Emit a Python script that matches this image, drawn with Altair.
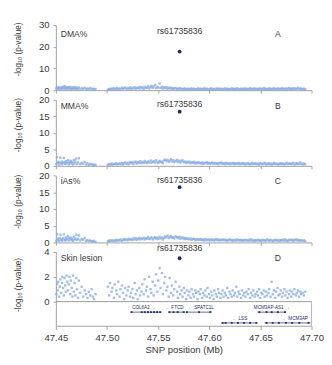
import altair as alt
import pandas as pd

# ---------------- data ----------------
pos_seg1 = [47.4505, 47.4512, 47.4518, 47.4523, 47.4531, 47.4538, 47.4544, 47.4552, 47.4559, 47.4563,
            47.4571, 47.4578, 47.4585, 47.4591, 47.4597, 47.4604, 47.4612, 47.4619, 47.4626, 47.4633,
            47.4641, 47.4647, 47.4655, 47.4662, 47.4668, 47.4676, 47.4684, 47.4691, 47.4699, 47.4707,
            47.4716, 47.4725, 47.4738, 47.4752, 47.4767, 47.4781, 47.4795, 47.4808, 47.4822, 47.4836,
            47.4849, 47.4861, 47.4874, 47.4888]
pos_seg2 = [47.5008, 47.5021, 47.5030, 47.5044, 47.5052, 47.5067, 47.5075, 47.5089, 47.5098, 47.5110,
            47.5123, 47.5131, 47.5146, 47.5155, 47.5168, 47.5177, 47.5190, 47.5202, 47.5211, 47.5225,
            47.5234, 47.5248, 47.5256, 47.5270, 47.5279, 47.5292, 47.5301, 47.5315, 47.5323, 47.5337,
            47.5345, 47.5359, 47.5368, 47.5381, 47.5390, 47.5403, 47.5412, 47.5426, 47.5434, 47.5447,
            47.5456, 47.5470, 47.5479, 47.5492, 47.5501, 47.5514, 47.5523, 47.5537, 47.5545, 47.5559,
            47.5568, 47.5581, 47.5590, 47.5604, 47.5612, 47.5626, 47.5635, 47.5648, 47.5657, 47.5671,
            47.5684, 47.5693, 47.5707, 47.5715, 47.5729, 47.5738, 47.5751, 47.5760, 47.5774, 47.5782,
            47.5796, 47.5805, 47.5818, 47.5827, 47.5841, 47.5849, 47.5863, 47.5872, 47.5885, 47.5894,
            47.5908, 47.5916, 47.5930, 47.5939, 47.5952, 47.5961, 47.5975, 47.5983, 47.5997, 47.6006,
            47.6019, 47.6028, 47.6042, 47.6050, 47.6064, 47.6073, 47.6086, 47.6095, 47.6109, 47.6117,
            47.6131, 47.6140, 47.6153, 47.6162, 47.6176, 47.6184, 47.6198, 47.6207, 47.6220, 47.6229,
            47.6243, 47.6251, 47.6265, 47.6274, 47.6287, 47.6296, 47.6310, 47.6318, 47.6332, 47.6341,
            47.6354, 47.6363, 47.6377, 47.6385, 47.6399, 47.6408, 47.6421, 47.6430, 47.6444, 47.6452,
            47.6466, 47.6475, 47.6488, 47.6497, 47.6511, 47.6519, 47.6533, 47.6542, 47.6555, 47.6564,
            47.6578, 47.6586, 47.6600, 47.6609, 47.6622, 47.6631, 47.6645, 47.6653, 47.6667, 47.6676,
            47.6689, 47.6698, 47.6712, 47.6720, 47.6734, 47.6743, 47.6756, 47.6765, 47.6779, 47.6787,
            47.6801, 47.6810, 47.6823, 47.6832, 47.6846, 47.6854, 47.6868, 47.6877, 47.6890, 47.6899,
            47.6912, 47.6925, 47.6938]
positions = pos_seg1 + pos_seg2

dma = [0.8, 1.2, 0.5, 1.0, 1.5, 0.7, 1.1, 0.4, 1.3, 0.9, 1.6, 0.6, 1.2, 1.8, 0.9, 0.5, 1.4, 1.0, 0.7, 1.5,
       1.2, 0.4, 0.9, 1.3, 0.6, 1.1, 0.8, 1.4, 0.5, 1.0, 0.7, 1.2, 0.3, 0.9, 0.6, 1.1, 0.4, 0.8, 0.5, 1.0,
       0.3, 0.7, 0.4, 0.6,
       0.3, 0.6, 0.4, 0.8, 0.5, 0.9, 0.3, 0.7, 1.0, 0.5,
       0.8, 0.4, 1.1, 0.6, 0.9, 1.2, 0.5, 1.0, 0.7, 1.3,
       0.6, 1.1, 0.8, 1.4, 0.5, 1.0, 1.2, 0.7, 1.5, 0.9,
       1.3, 0.6, 1.6, 1.0, 1.2, 1.8, 0.8, 1.4, 2.0, 1.1,
       1.7, 2.4, 0.9, 1.5, 1.2, 3.1, 1.0, 1.6, 0.7, 1.3,
       0.9, 1.4, 0.6, 1.1, 0.8, 1.2, 0.5, 0.9, 0.7, 1.0,
       0.4, 0.8, 0.6, 0.9, 0.3, 0.7, 0.5, 0.8, 0.4, 0.6,
       0.7, 0.3, 0.6, 0.8, 0.4, 0.7, 0.5, 0.3, 0.6, 0.8,
       0.5, 0.7, 0.3, 0.6, 0.8, 0.4, 0.7, 0.5, 0.3, 0.6,
       0.8, 0.4, 0.6, 0.3, 0.7, 0.5, 0.8, 0.4, 0.6, 0.7,
       0.3, 0.6, 0.8, 0.4, 0.7, 0.5, 0.3, 0.6, 0.8, 0.5,
       0.7, 0.4, 0.6, 0.9, 0.5, 0.3, 0.7, 0.6, 0.4, 0.8,
       0.5, 0.7, 0.3, 0.6, 0.9, 0.4, 0.7, 0.5, 0.8, 0.6,
       0.4, 0.7, 0.5, 0.8, 0.3, 0.6, 0.9, 0.5, 0.7, 0.4,
       0.6, 0.8, 0.4, 0.7, 0.5, 0.9, 0.6, 0.3, 0.8, 0.5,
       0.7, 0.4, 0.9, 0.6, 0.5, 0.8, 0.3, 0.7, 1.0, 0.6,
       0.4, 0.8, 0.6, 0.9, 0.5, 0.7, 1.1, 0.4, 0.8, 0.6,
       0.5, 0.7, 0.4]

mma = [0.6, 2.6, 0.9, 1.2, 0.4, 1.0, 2.5, 0.7, 1.3, 0.5, 0.9, 2.4, 1.1, 0.6, 1.4, 0.8, 1.0, 1.7, 0.5, 1.2,
       0.9, 1.5, 0.7, 1.1, 0.4, 1.8, 0.8, 1.3, 2.2, 0.6, 1.0, 2.3, 0.5, 0.9, 0.7, 1.2, 0.4, 0.8, 0.3, 0.6,
       0.5, 0.2, 0.4, 0.3,
       0.3, 0.5, 0.4, 0.7, 0.3, 0.6, 0.5, 0.8, 0.4, 0.6,
       0.7, 0.5, 0.9, 0.4, 0.8, 1.0, 0.6, 0.9, 0.5, 1.1,
       0.8, 1.2, 0.6, 1.0, 1.3, 0.7, 1.1, 0.9, 1.4, 0.8,
       1.2, 0.9, 1.5, 1.1, 0.8, 1.3, 1.0, 1.6, 0.9, 1.2,
       1.4, 1.0, 1.7, 1.2, 0.9, 1.5, 1.1, 1.3, 0.8, 1.6,
       1.9, 1.4, 1.8, 1.2, 1.6, 2.0, 1.3, 1.7, 1.1, 1.5,
       1.8, 1.2, 1.6, 1.0, 1.4, 1.7, 1.1, 1.3, 0.9, 1.2,
       1.0, 1.3, 0.8, 1.1, 0.9, 1.2, 0.7, 1.0, 0.8, 1.1,
       0.9, 0.7, 1.0, 0.6, 0.9, 0.8, 1.1, 0.7, 0.9, 0.6,
       0.8, 1.0, 0.6, 0.9, 0.7, 0.8, 0.5, 0.9, 0.7, 1.0,
       0.6, 0.8, 0.5, 0.9, 0.7, 0.6, 0.8, 0.5, 0.7, 0.9,
       0.5, 0.8, 0.6, 0.7, 0.9, 0.5, 0.7, 0.6, 0.8, 0.5,
       0.7, 0.5, 0.8, 0.6, 0.4, 0.7, 0.9, 0.5, 0.6, 0.8,
       0.5, 0.7, 0.4, 0.8, 0.6, 0.5, 0.7, 0.9, 0.4, 0.6,
       0.8, 0.5, 0.7, 0.4, 0.6, 0.9, 0.5, 0.7, 0.6, 0.4,
       0.6, 0.8, 0.5, 0.7, 0.4, 0.6, 0.9, 0.5, 0.7, 0.6,
       0.5, 0.7, 0.9, 0.4, 0.6, 0.8, 0.5, 0.7, 1.0, 0.6,
       0.4, 0.7, 0.5]

ias = [0.5, 2.5, 0.8, 1.1, 0.4, 1.3, 2.3, 0.7, 1.0, 0.5, 1.2, 2.4, 0.9, 0.6, 1.5, 0.8, 1.1, 1.9, 0.6, 1.3,
       0.9, 1.4, 0.7, 1.0, 0.5, 1.7, 0.9, 1.2, 2.3, 0.7, 1.1, 2.1, 0.6, 1.0, 0.8, 1.3, 0.5, 0.7, 0.4, 0.6,
       0.4, 0.3, 0.5, 0.2,
       0.4, 0.6, 0.3, 0.7, 0.5, 0.6, 0.4, 0.8, 0.5, 0.7,
       0.6, 0.9, 0.5, 0.8, 1.0, 0.7, 0.9, 0.6, 1.1, 0.8,
       1.0, 0.7, 1.2, 0.9, 1.3, 0.8, 1.1, 1.4, 0.9, 1.2,
       1.0, 1.4, 0.9, 1.3, 1.1, 1.6, 1.0, 1.2, 1.5, 0.9,
       1.3, 1.6, 1.1, 1.4, 1.0, 1.7, 1.2, 1.5, 0.9, 1.3,
       1.8, 1.5, 2.0, 1.3, 1.7, 1.9, 1.4, 1.6, 1.2, 1.8,
       1.6, 1.3, 1.7, 1.1, 1.5, 1.2, 1.4, 1.0, 1.3, 1.1,
       1.1, 0.9, 1.2, 0.8, 1.0, 1.1, 0.7, 0.9, 1.0, 0.8,
       0.8, 1.0, 0.7, 0.9, 0.6, 1.0, 0.8, 0.7, 0.9, 0.6,
       0.9, 0.7, 0.8, 0.6, 1.0, 0.7, 0.9, 0.6, 0.8, 0.7,
       0.7, 0.9, 0.6, 0.8, 0.5, 0.7, 0.9, 0.6, 0.8, 0.5,
       0.6, 0.8, 0.5, 0.9, 0.7, 0.6, 0.8, 0.5, 0.7, 0.6,
       0.8, 0.6, 0.7, 0.5, 0.9, 0.6, 0.8, 0.4, 0.7, 0.5,
       0.6, 0.8, 0.5, 0.7, 0.4, 0.8, 0.6, 0.7, 0.5, 0.9,
       0.7, 0.5, 0.8, 0.6, 0.4, 0.7, 0.6, 0.8, 0.5, 0.7,
       0.5, 0.7, 0.6, 0.8, 0.5, 0.9, 0.6, 0.4, 0.7, 0.8,
       0.6, 0.8, 0.5, 0.7, 0.9, 0.6, 0.8, 0.5, 0.7, 0.6,
       0.5, 0.6, 0.4]

skin = [0.6, 1.4, 0.9, 1.6, 0.4, 1.2, 1.8, 0.7, 1.5, 2.0, 1.1, 0.5, 1.9, 1.3, 0.8, 2.1, 1.6, 0.9, 1.4, 2.0,
        0.6, 1.7, 1.1, 0.4, 2.1, 0.8, 1.5, 0.5, 1.9, 1.0, 0.3, 1.7, 0.7, 1.2, 0.4, 0.9, 0.6, 0.3, 0.8, 0.5,
        1.0, 0.4, 0.2, 0.6,
        1.2, 0.5, 1.5, 0.8, 1.1, 0.3, 1.4, 0.9, 0.6, 1.6,
        0.4, 1.0, 1.3, 0.7, 0.2, 1.1, 0.5, 0.9, 1.2, 0.4,
        0.7, 1.0, 0.3, 1.5, 0.6, 0.9, 0.2, 1.1, 0.5, 0.8,
        1.4, 0.6, 1.8, 0.9, 1.2, 0.4, 2.0, 1.0, 0.7, 1.6,
        0.5, 1.3, 2.2, 0.8, 1.7, 2.7, 1.1, 2.3, 0.6, 1.5,
        2.0, 0.9, 1.2, 0.4, 1.9, 0.7, 1.3, 0.5, 1.0, 1.6,
        0.8, 0.3, 1.2, 0.6, 0.9, 0.4, 1.1, 0.7, 0.2, 0.9,
        0.5, 0.8, 0.3, 1.0, 0.6, 0.4, 0.9, 0.7, 0.2, 0.8,
        0.6, 1.0, 0.3, 0.7, 0.5, 0.9, 0.4, 1.1, 0.6, 0.3,
        0.8, 0.5, 0.2, 0.9, 0.6, 0.4, 1.0, 0.7, 0.3, 0.6,
        0.9, 0.4, 0.7, 0.5, 1.1, 0.3, 0.8, 0.6, 0.4, 0.9,
        0.5, 0.7, 1.2, 0.4, 0.8, 0.6, 0.3, 0.9, 0.5, 0.7,
        0.4, 0.8, 0.6, 1.0, 0.3, 0.7, 0.5, 0.9, 0.4, 0.6,
        0.8, 0.5, 1.0, 0.3, 0.7, 0.6, 0.9, 0.4, 0.8, 0.5,
        0.7, 1.0, 0.4, 1.6, 0.6, 0.9, 0.3, 0.8, 1.1, 0.5,
        0.6, 0.9, 0.4, 0.7, 1.0, 0.5, 0.8, 0.3, 0.6, 0.9,
        0.4, 0.8, 0.6, 1.0, 0.5, 0.7, 0.9, 0.4, 0.8, 0.6,
        0.7, 0.5, 0.8]

lead_snp = "rs61735836"
lead_pos = 47.571
lead_dma, lead_mma, lead_ias, lead_skin = 17.8, 16.4, 16.5, 3.5

x_ticks = [47.45, 47.50, 47.55, 47.60, 47.65, 47.70]

gene_names = ["COL6A2 →", "← FTCD", "← SPATC1L", "← LSS", "MCM3AP-AS1 →", "← MCM3AP"]
gene_start = [47.523, 47.560, 47.577, 47.612, 47.647, 47.654]
gene_end = [47.553, 47.576, 47.602, 47.647, 47.675, 47.699]
gene_label_pos = [47.536, 47.566, 47.592, 47.630, 47.661, 47.684]
gene_row = [1, 1, 1, 2, 1, 2]
exon_gene_row = [1, 1, 1, 1, 1, 1, 1, 1, 1, 1, 1, 1, 1, 1, 1, 1, 1, 1, 1, 1,
                 2, 2, 2, 2, 2, 2, 2, 2, 2, 2, 2, 2, 2, 2]
exon_pos = [47.524, 47.534, 47.537, 47.540, 47.543, 47.546, 47.549, 47.552,
            47.561, 47.565, 47.569, 47.575, 47.578, 47.590, 47.601,
            47.649, 47.656, 47.661, 47.667, 47.674,
            47.613, 47.616, 47.622, 47.628, 47.634, 47.640, 47.646,
            47.656, 47.662, 47.668, 47.675, 47.681, 47.688, 47.697]

# ---------------- style ----------------
BLUE = "#8aade3"
NAVY = "#1b2a66"
AX = "#a0a0a0"
TXT = "#3a3a3a"
XDOM = [47.45, 47.70]
W = 267
ROW_LINE = {1: -0.85, 2: -1.72}
ROW_LABEL = {1: -0.5, 2: -1.38}


def panel(name, vals, letter, ymin, ymax, yticks, height, ann_y, rs_y, lead_y, bottom, title_y):
    xs = alt.Scale(domain=XDOM, nice=False, zero=False)
    ys = alt.Scale(domain=[ymin, ymax], nice=False, zero=False)
    if bottom:
        xaxis = alt.Axis(values=x_ticks, format=".2f", title="SNP position (Mb)", grid=False,
                         domainColor=AX, tickColor=AX, tickSize=4, labelFontSize=10,
                         titleFontSize=10, labelColor=TXT, titleColor=TXT,
                         titleFontWeight="normal", labelPadding=3, titlePadding=3,
                         labelFlush=False)
    else:
        xaxis = alt.Axis(values=x_ticks, labels=False, title=None, grid=False,
                         domainColor=AX, tickColor=AX, tickSize=3)
    yaxis = alt.Axis(values=yticks, title="-log₁₀ (p-value)", grid=False, domainColor=AX,
                     tickColor=AX, tickSize=3, labelPadding=4, labelFontSize=10,
                     labelColor=TXT, titleColor=TXT, titleFontSize=8.5,
                     titleFontWeight="normal", titleX=-35, titleY=title_y)

    xenc = alt.X("pos:Q", scale=xs, axis=xaxis)
    yenc = alt.Y("val:Q", scale=ys, axis=yaxis)

    df = pd.DataFrame({"pos": positions, "val": vals})
    pts = alt.Chart(df).mark_square(size=6, color=BLUE, opacity=0.8).encode(x=xenc, y=yenc)

    layers = []
    if bottom:
        zero_df = pd.DataFrame({"pos": [XDOM[0]], "pos2": [XDOM[1]], "val": [0]})
        layers.append(alt.Chart(zero_df).mark_rule(color="#8c8c8c", strokeWidth=0.9).encode(
            x=xenc, x2="pos2:Q", y=yenc))
        box_df = pd.DataFrame({"pos": [XDOM[1]], "val": [0], "val2": [ymin]})
        layers.append(alt.Chart(box_df).mark_rule(color=AX, strokeWidth=0.8).encode(
            x=xenc, y=yenc, y2="val2:Q"))
        gdf = pd.DataFrame({"pos": gene_start, "pos2": gene_end,
                            "val": [ROW_LINE[r] for r in gene_row]})
        layers.append(alt.Chart(gdf).mark_rule(color=NAVY, strokeWidth=0.7).encode(
            x=xenc, x2="pos2:Q", y=yenc))
        edf = pd.DataFrame({"pos": exon_pos, "val": [ROW_LINE[r] for r in exon_gene_row]})
        layers.append(alt.Chart(edf).mark_square(size=4, color=NAVY, opacity=0.9).encode(
            x=xenc, y=yenc))
        ldf = pd.DataFrame({"pos": gene_label_pos, "val": [ROW_LABEL[r] for r in gene_row],
                            "text": gene_names})
        layers.append(alt.Chart(ldf).mark_text(fontSize=4.8, color=NAVY, baseline="middle").encode(
            x=xenc, y=yenc, text="text:N"))

    lead_df = pd.DataFrame({"pos": [lead_pos], "val": [lead_y]})
    layers.append(alt.Chart(lead_df).mark_circle(size=16, color=NAVY, opacity=1).encode(
        x=xenc, y=yenc))

    name_df = pd.DataFrame({"pos": [47.4547], "val": [ann_y], "text": [name]})
    layers.append(alt.Chart(name_df).mark_text(align="left", baseline="middle", fontSize=9,
                                               color=TXT).encode(x=xenc, y=yenc, text="text:N"))
    rs_df = pd.DataFrame({"pos": [lead_pos], "val": [rs_y], "text": [lead_snp]})
    layers.append(alt.Chart(rs_df).mark_text(align="center", baseline="middle", fontSize=9,
                                             color=TXT).encode(x=xenc, y=yenc, text="text:N"))
    let_df = pd.DataFrame({"pos": [47.667], "val": [ann_y], "text": [letter]})
    layers.append(alt.Chart(let_df).mark_text(align="center", baseline="middle", fontSize=9,
                                              color=TXT).encode(x=xenc, y=yenc, text="text:N"))

    return alt.layer(pts, *layers).properties(width=W, height=height)


pA = panel("DMA%", dma, "A", 0, 30, [0, 10, 20, 30], 68, 26, 27.2, lead_dma, False, 25)
pB = panel("MMA%", mma, "B", 0, 20, [0, 5, 10, 15, 20], 69, 18.2, 18.6, lead_mma, False, 26)
pC = panel("iAs%", ias, "C", 0, 20, [0, 5, 10, 15, 20], 70, 18.2, 18.6, lead_ias, False, 27)
pD = panel("Skin lesion", skin, "D", -1.95, 4, [0, 2, 4], 77, 3.5, 4.35, lead_skin, True, 34)

chart = alt.vconcat(pA, pB, pC, pD, spacing=10, bounds="flush").properties(
    padding={"left": 6, "top": 5, "right": 0, "bottom": 0}
).configure(font="Liberation Sans", background="white").configure_view(strokeWidth=0)

chart.save("out.html", embed_options={"renderer": "svg", "actions": False})
